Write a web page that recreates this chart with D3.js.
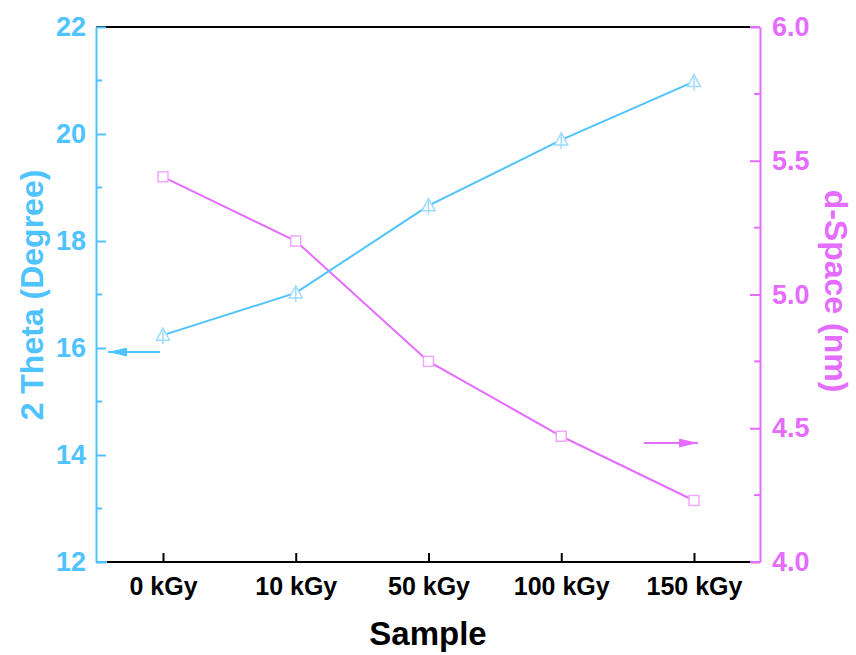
<!DOCTYPE html>
<html>
<head>
<meta charset="utf-8">
<script src="https://cdn.jsdelivr.net/npm/d3@7"></script>
<style>
  body { margin: 0; background: #fff; }
  text { font-family: "Liberation Sans", Arial, sans-serif; font-weight: bold; }
</style>
</head>
<body>
<svg id="chart" width="856" height="655"></svg>
<script>
var samples = ["0 kGy", "10 kGy", "50 kGy", "100 kGy", "150 kGy"];
var theta = [16.24, 17.03, 18.66, 19.89, 20.98];
var dspace = [5.44, 5.20, 4.75, 4.47, 4.23];
var leftTicks = [12, 14, 16, 18, 20, 22];
var rightTicks = [4.0, 4.5, 5.0, 5.5, 6.0];

var blue = "#4fc3ff";
var blueLight = "#9fdcff";
var pink = "#e46cff";
var pinkLight = "#f0a8ff";

var svg = d3.select("#chart");
var margin = { top: 27, bottom: 562, left: 96, right: 760, plotL: 107, plotR: 750 };

var x = d3.scalePoint().domain(samples).range([163, 694]);
var yL = d3.scaleLinear().domain([12, 22]).range([margin.bottom, margin.top]);
var yR = d3.scaleLinear().domain([4, 6]).range([margin.bottom, margin.top]);

// top frame line
svg.append("line")
  .attr("x1", margin.left).attr("x2", margin.plotR)
  .attr("y1", margin.top).attr("y2", margin.top)
  .attr("stroke", "#000").attr("stroke-width", 2);

// bottom axis
var xAxis = svg.append("g")
  .attr("transform", `translate(0,${margin.bottom})`)
  .call(d3.axisBottom(x).tickSizeInner(-9).tickSizeOuter(0).tickPadding(15));
xAxis.select(".domain").remove();
xAxis.append("line")
  .attr("x1", margin.plotL).attr("x2", margin.plotR)
  .attr("stroke", "#000").attr("stroke-width", 2);
xAxis.selectAll(".tick line").attr("stroke", "#000").attr("stroke-width", 2);
xAxis.selectAll(".tick text").attr("fill", "#000").style("font-size", "25px");

// left axis
var leftAxis = svg.append("g")
  .attr("transform", `translate(${margin.left},0)`)
  .call(d3.axisLeft(yL).tickValues(leftTicks).tickSizeInner(-10).tickSizeOuter(0).tickPadding(10));
leftAxis.select(".domain").attr("stroke", blue).attr("stroke-width", 2);
leftAxis.selectAll(".tick line").attr("stroke", blue).attr("stroke-width", 2);
leftAxis.selectAll(".tick text").attr("fill", blue).style("font-size", "27px");
leftAxis.selectAll(".minor").data(d3.range(13, 22, 2)).enter().append("line")
  .attr("x1", 0).attr("x2", 6)
  .attr("y1", d => yL(d)).attr("y2", d => yL(d))
  .attr("stroke", blue).attr("stroke-width", 2);
leftAxis.append("line")
  .attr("x1", 0).attr("x2", margin.plotL - margin.left)
  .attr("y1", margin.bottom).attr("y2", margin.bottom)
  .attr("stroke", blue).attr("stroke-width", 2);

// right axis
var rightAxis = svg.append("g")
  .attr("transform", `translate(${margin.right},0)`)
  .call(d3.axisRight(yR).tickValues(rightTicks).tickFormat(d3.format(".1f")).tickSizeInner(-10).tickSizeOuter(0).tickPadding(12));
rightAxis.select(".domain").attr("stroke", pink).attr("stroke-width", 2);
rightAxis.selectAll(".tick line").attr("stroke", pink).attr("stroke-width", 2);
rightAxis.selectAll(".tick text").attr("fill", pink).style("font-size", "27px");
rightAxis.selectAll(".minor").data([4.25, 4.75, 5.25, 5.75]).enter().append("line")
  .attr("x1", 0).attr("x2", -6)
  .attr("y1", d => yR(d)).attr("y2", d => yR(d))
  .attr("stroke", pink).attr("stroke-width", 2);
[margin.top, margin.bottom].forEach(function(yy) {
  rightAxis.append("line")
    .attr("x1", margin.plotR - margin.right).attr("x2", 0)
    .attr("y1", yy).attr("y2", yy)
    .attr("stroke", pink).attr("stroke-width", 2);
});

// axis titles
svg.append("text")
  .attr("x", 428).attr("y", 645)
  .attr("text-anchor", "middle")
  .style("font-size", "33px").attr("fill", "#000")
  .text("Sample");

svg.append("text")
  .attr("transform", "translate(43,295) rotate(-90)")
  .attr("text-anchor", "middle")
  .style("font-size", "32px").attr("fill", blue)
  .text("2 Theta (Degree)");

svg.append("text")
  .attr("transform", "translate(825,291) rotate(90)")
  .attr("text-anchor", "middle")
  .style("font-size", "32px").attr("fill", pink)
  .text("d-Space (nm)");

// lines
var blueLine = d3.line().x((d, i) => x(samples[i])).y(d => yL(d));
var pinkLine = d3.line().x((d, i) => x(samples[i])).y(d => yR(d));

svg.append("path").datum(dspace)
  .attr("d", pinkLine).attr("fill", "none")
  .attr("stroke", pink).attr("stroke-width", 2);

svg.append("path").datum(theta)
  .attr("d", blueLine).attr("fill", "none")
  .attr("stroke", blue).attr("stroke-width", 2);

// square markers
svg.selectAll(".sq").data(dspace).enter().append("rect")
  .attr("x", (d, i) => x(samples[i]) - 5)
  .attr("y", d => yR(d) - 5)
  .attr("width", 10).attr("height", 10)
  .attr("fill", "#fff").attr("stroke", pinkLight).attr("stroke-width", 1.5);

// triangle markers with a vertical stroke through them
var tri = svg.selectAll(".tri").data(theta).enter().append("g")
  .attr("transform", (d, i) => `translate(${x(samples[i])},${yL(d)})`);
tri.append("path")
  .attr("d", "M0,-7 L6.5,5 L-6.5,5 Z")
  .attr("fill", "#fff").attr("stroke", blueLight).attr("stroke-width", 1.5);
tri.append("line")
  .attr("x1", 0).attr("x2", 0).attr("y1", -7).attr("y2", 9)
  .attr("stroke", blueLight).attr("stroke-width", 1.5);

// arrows
var defs = svg.append("defs");
function marker(id, color) {
  defs.append("marker")
    .attr("id", id).attr("viewBox", "0 0 10 10")
    .attr("preserveAspectRatio", "none")
    .attr("refX", 10).attr("refY", 5)
    .attr("markerWidth", 19).attr("markerHeight", 9)
    .attr("markerUnits", "userSpaceOnUse")
    .attr("orient", "auto")
    .append("path").attr("d", "M0,0 L10,5 L0,10 Z").attr("fill", color);
}
marker("arrBlue", blue);
marker("arrPink", pink);

svg.append("line")
  .attr("x1", 160).attr("x2", 108).attr("y1", 352).attr("y2", 352)
  .attr("stroke", blue).attr("stroke-width", 2)
  .attr("marker-end", "url(#arrBlue)");

svg.append("line")
  .attr("x1", 644).attr("x2", 698).attr("y1", 443).attr("y2", 443)
  .attr("stroke", pink).attr("stroke-width", 2)
  .attr("marker-end", "url(#arrPink)");
</script>
</body>
</html>
